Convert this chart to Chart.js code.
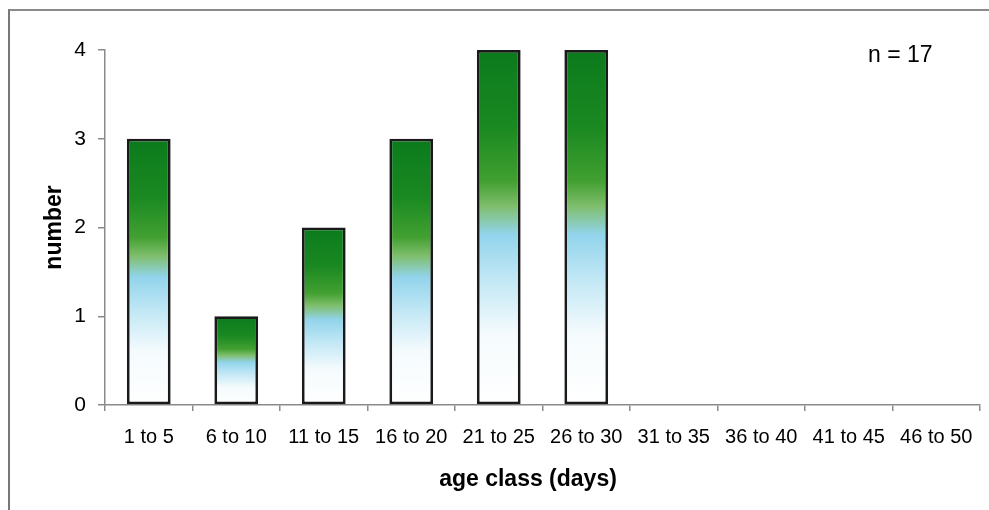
<!DOCTYPE html>
<html>
<head>
<meta charset="UTF-8" />
<script src="https://cdn.jsdelivr.net/npm/chart.js@4"></script>
<style>
  html, body { margin: 0; padding: 0; background: #fff; }
  body { width: 989px; height: 510px; position: relative; overflow: hidden; }
  .frame {
    position: absolute; left: 8px; top: 9px; width: 1000px; height: 520px;
    border-left: 2px solid #777; border-top: 2px solid #8a8a8a;
  }
  .wrap { position: absolute; left: 0; top: 0; width: 989px; height: 510px; }
</style>
</head>
<body>
<div class="frame"></div>
<div class="wrap"><canvas id="ageChart"></canvas></div>
<script>
const categories = ['1 to 5', '6 to 10', '11 to 15', '16 to 20', '21 to 25',
                    '26 to 30', '31 to 35', '36 to 40', '41 to 45', '46 to 50'];
const counts = [3, 1, 2, 3, 4, 4, 0, 0, 0, 0];
const yTicks = [0, 1, 2, 3, 4];
const sampleNote = 'n = 17';
const xTitle = 'age class (days)';

const FONT = "'Liberation Sans', Arial, sans-serif";

// white -> light blue -> green, stretched over each bar's own height
function barFill(c) {
  const chart = c.chart;
  if (!chart.chartArea || c.type !== 'data') return 'transparent';
  const y = chart.scales.y;
  const top = y.getPixelForValue(c.raw);
  const base = y.getPixelForValue(0);
  if (top === base) return 'transparent';
  const g = chart.ctx.createLinearGradient(0, base, 0, top);
  g.addColorStop(0, '#ffffff');
  g.addColorStop(0.2, '#f5fbfd');
  g.addColorStop(0.35, '#c3e8f5');
  g.addColorStop(0.48, '#92d4ec');
  g.addColorStop(0.56, '#7fbe6c');
  g.addColorStop(0.63, '#42a031');
  g.addColorStop(0.78, '#1a8921');
  g.addColorStop(1, '#0b7a1c');
  return g;
}

// "n = 17" and the x title (the title sits a bit left of the plot centre)
const extraText = {
  id: 'extraText',
  afterDraw(chart) {
    const { ctx, chartArea } = chart;
    ctx.save();
    ctx.fillStyle = '#000';
    ctx.textBaseline = 'middle';
    ctx.font = '23px ' + FONT;
    ctx.fillText(sampleNote, chartArea.right - 112, chartArea.top + 6);
    ctx.font = 'bold 23px ' + FONT;
    ctx.textAlign = 'center';
    ctx.fillText(xTitle, chartArea.left + 423, chartArea.bottom + 75);
    ctx.restore();
  }
};

new Chart(document.getElementById('ageChart'), {
  type: 'bar',
  data: {
    labels: categories,
    datasets: [{
      data: counts,
      backgroundColor: barFill,
      borderColor: '#1a1a1a',
      borderWidth: (c) => (c.raw ? 2.8 : 0),
      borderSkipped: false,
      barPercentage: 0.5,
      categoryPercentage: 1
    }]
  },
  options: {
    responsive: true,
    maintainAspectRatio: false,
    animation: false,
    layout: { padding: { left: 10, top: 50, right: 9, bottom: 0 } },
    plugins: { legend: { display: false }, tooltip: { enabled: false } },
    scales: {
      x: {
        grid: { offset: true, drawOnChartArea: false, tickLength: 6, color: '#8a8a8a', lineWidth: 1.5 },
        border: { color: '#8a8a8a', width: 1.5 },
        ticks: { color: '#000', font: { family: FONT, size: 20 }, padding: 14, maxRotation: 0, autoSkip: false },
        afterFit: (s) => { s.height = 105; }
      },
      y: {
        min: yTicks[0],
        max: yTicks[yTicks.length - 1],
        afterBuildTicks: (s) => { s.ticks = yTicks.map((v) => ({ value: v })); },
        grid: { drawOnChartArea: false, tickLength: 7, color: '#8a8a8a', lineWidth: 1.5 },
        border: { color: '#8a8a8a', width: 1.5 },
        ticks: { color: '#000', font: { family: FONT, size: 21 }, padding: 12 },
        title: {
          display: true, text: 'number', color: '#000',
          font: { family: FONT, size: 23, weight: 'bold' }, padding: { top: 31, bottom: 0 }
        },
        afterFit: (s) => { s.width = 95; }
      }
    }
  },
  plugins: [extraText]
});
</script>
</body>
</html>
